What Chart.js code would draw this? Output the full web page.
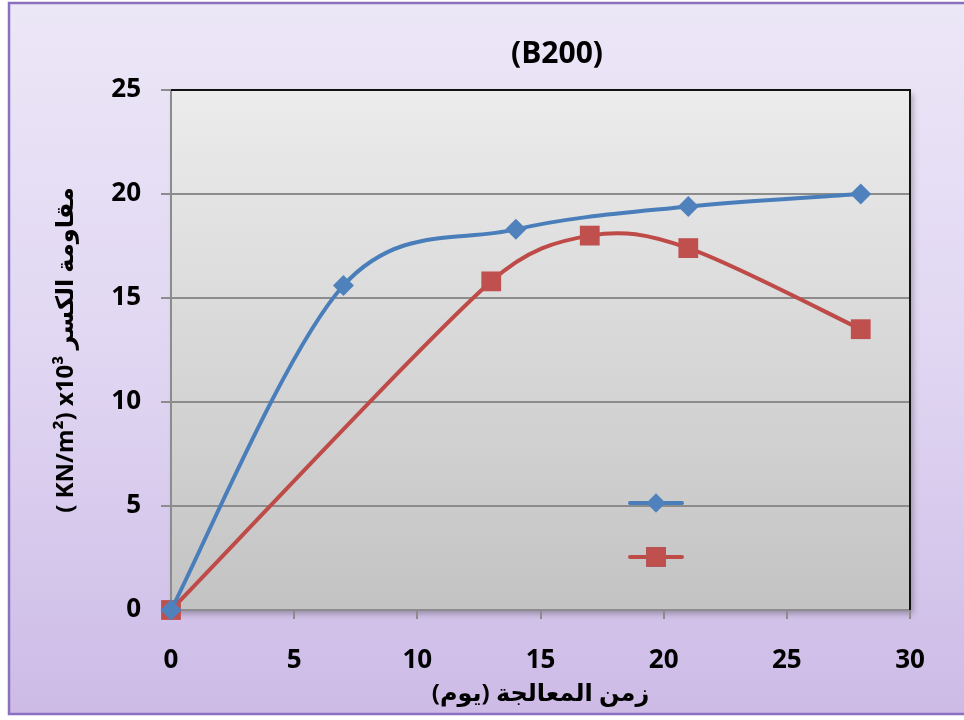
<!DOCTYPE html>
<html>
<head>
<meta charset="utf-8">
<script src="https://cdn.jsdelivr.net/npm/chart.js@4.4.1/dist/chart.umd.min.js"></script>
<style>
  html, body { margin: 0; padding: 0; background: #ffffff; }
  #wrap { width: 964px; height: 720px; position: relative; }
</style>
</head>
<body>
<div id="wrap"><canvas id="c" width="964" height="720"></canvas></div>
<script>
// Curing time (days) and compressive strength x10^3 (KN/m2)
const daysA = [0, 7, 14, 21, 28];
const strengthA = [0, 15.6, 18.3, 19.4, 20.0];
const daysB = [0, 13, 17, 21, 28];
const strengthB = [0, 15.8, 18.0, 17.4, 13.5];
const xTicks = [0, 5, 10, 15, 20, 25, 30];
const yTicks = [0, 5, 10, 15, 20, 25];

const chartTitle = '(B200)';
const xTitle = 'زمن المعالجة (يوم)';
const yTitle = '( KN/m²) x10³ مقاومة الكسر';

const latin = "'Open Sans', 'DejaVu Sans', sans-serif";

const blue = '#4a7ebb';
const blueFill = '#4f81bd';
const red = '#be4b48';
const redFill = '#c0504d';

const toPoints = (xs, ys) => xs.map((x, i) => ({ x: x, y: ys[i] }));

// Spreadsheet-style smoothing: Catmull-Rom handles at 1/6 of the neighbour chord,
// each handle limited to a fraction of the segment it belongs to
const smoothLines = {
  id: 'smoothLines',
  beforeDatasetsDraw(chart) {
    const cap = 0.45;
    chart.data.datasets.forEach((ds, di) => {
      const meta = chart.getDatasetMeta(di);
      if (!meta.dataset) return;
      meta.dataset.updateControlPoints(chart.chartArea, meta.indexAxis);
      const pts = meta.data;
      const n = pts.length;
      const dist = (p, q) => Math.hypot(q.x - p.x, q.y - p.y);
      for (let i = 0; i < n; i++) {
        const prev = pts[Math.max(0, i - 1)];
        const next = pts[Math.min(n - 1, i + 1)];
        const dx = (next.x - prev.x) / 6;
        const dy = (next.y - prev.y) / 6;
        const len = Math.hypot(dx, dy) || 1;
        const kIn = i > 0 ? Math.min(1, cap * dist(prev, pts[i]) / len) : 1;
        const kOut = i < n - 1 ? Math.min(1, cap * dist(pts[i], next) / len) : 1;
        pts[i].cp1x = pts[i].x - dx * kIn;
        pts[i].cp1y = pts[i].y - dy * kIn;
        pts[i].cp2x = pts[i].x + dx * kOut;
        pts[i].cp2y = pts[i].y + dy * kOut;
      }
      meta.dataset._path = undefined;
    });
  }
};

// Page frame, plot background, title, plot border and the unlabeled legend keys
const decor = {
  id: 'decor',
  beforeDraw(chart) {
    const ctx = chart.ctx;
    const a = chart.chartArea;
    ctx.save();
    ctx.fillStyle = '#ffffff';
    ctx.fillRect(0, 0, chart.width, chart.height);
    const g = ctx.createLinearGradient(0, 3, 0, 714);
    g.addColorStop(0, '#ece7f7');
    g.addColorStop(0.5, '#e0d6f2');
    g.addColorStop(1, '#cdbbe6');
    ctx.fillStyle = g;
    ctx.fillRect(9, 3, chart.width, 711);
    ctx.strokeStyle = '#8a70bf';
    ctx.lineWidth = 2.5;
    ctx.strokeRect(9, 3, chart.width + 10, 711);

    // plot area with a soft drop shadow
    ctx.save();
    ctx.shadowColor = 'rgba(0,0,0,0.28)';
    ctx.shadowBlur = 6;
    ctx.shadowOffsetX = 3;
    ctx.shadowOffsetY = 4;
    const pg = ctx.createLinearGradient(0, a.top, 0, a.bottom);
    pg.addColorStop(0, '#ececec');
    pg.addColorStop(1, '#c3c3c3');
    ctx.fillStyle = pg;
    ctx.fillRect(a.left, a.top, a.right - a.left, a.bottom - a.top);
    ctx.restore();

    ctx.fillStyle = '#000000';
    ctx.font = "bold 30px " + latin;
    ctx.textAlign = 'center';
    ctx.textBaseline = 'middle';
    ctx.fillText(chartTitle, 557, 54);
    ctx.restore();
  },
  afterDatasetsDraw(chart) {
    const ctx = chart.ctx;
    const a = chart.chartArea;
    ctx.save();
    ctx.strokeStyle = '#111111';
    ctx.lineWidth = 2;
    ctx.beginPath();
    ctx.moveTo(a.left, a.top);
    ctx.lineTo(a.right, a.top);
    ctx.lineTo(a.right, a.bottom);
    ctx.stroke();

    // legend keys (no text)
    const keys = [
      { y: 503, color: blue, fill: blueFill, style: 'rectRot', r: 9.5 },
      { y: 557, color: red, fill: redFill, style: 'rect', r: 14 }
    ];
    keys.forEach(k => {
      ctx.strokeStyle = k.color;
      ctx.lineWidth = 4;
      ctx.lineCap = 'round';
      ctx.beginPath();
      ctx.moveTo(630, k.y);
      ctx.lineTo(682, k.y);
      ctx.stroke();
      Chart.helpers.drawPoint(ctx, {
        pointStyle: k.style, radius: k.r, rotation: 0, borderWidth: 0
      }, 656, k.y);
      ctx.fillStyle = k.fill;
      ctx.fill();
    });
    ctx.restore();
  }
};

new Chart(document.getElementById('c'), {
  type: 'line',
  data: {
    datasets: [
      {
        data: toPoints(daysA, strengthA),
        borderColor: blue,
        backgroundColor: blueFill,
        borderWidth: 4,
        tension: 0.4,
        pointStyle: 'rectRot',
        pointRadius: 10.5,
        pointBorderWidth: 0,
        pointBackgroundColor: blueFill,
        clip: false
      },
      {
        data: toPoints(daysB, strengthB),
        borderColor: red,
        backgroundColor: redFill,
        borderWidth: 4,
        tension: 0.4,
        pointStyle: 'rect',
        pointRadius: 14,
        pointBorderWidth: 0,
        pointBackgroundColor: redFill,
        clip: false
      }
    ]
  },
  options: {
    responsive: false,
    animation: false,
    events: [],
    layout: { padding: { left: 0, right: 54, top: 90, bottom: 0 } },
    plugins: {
      legend: { display: false },
      title: { display: false },
      tooltip: { enabled: false }
    },
    scales: {
      x: {
        type: 'linear',
        min: 0, max: 30,
        afterBuildTicks: s => { s.ticks = xTicks.map(v => ({ value: v })); },
        afterFit: s => { s.height = 110; },
        grid: { drawOnChartArea: false, drawTicks: true, tickLength: 9, color: '#8c8c8c', lineWidth: 2 },
        border: { display: true, color: '#8c8c8c', width: 2 },
        ticks: { color: '#000000', padding: 26, maxRotation: 0, font: { family: latin, size: 26, weight: 'bold' } },
        title: {
          display: true, text: xTitle, color: '#000000',
          font: { family: latin, size: 24, weight: 'bold' },
          padding: { top: 0, bottom: 11 }
        }
      },
      y: {
        type: 'linear',
        min: 0, max: 25,
        afterBuildTicks: s => { s.ticks = yTicks.map(v => ({ value: v })); },
        afterFit: s => { s.width = 171; },
        grid: { drawOnChartArea: true, drawTicks: true, tickLength: 10, color: '#8c8c8c', lineWidth: 2 },
        border: { display: true, color: '#8c8c8c', width: 2 },
        ticks: { color: '#000000', padding: 20, font: { family: latin, size: 26, weight: 'bold' } },
        title: {
          display: true, text: yTitle, color: '#000000',
          font: { family: latin, size: 24, weight: 'bold' },
          padding: { top: 52, bottom: 0 }
        }
      }
    }
  },
  plugins: [smoothLines, decor]
});
</script>
</body>
</html>
